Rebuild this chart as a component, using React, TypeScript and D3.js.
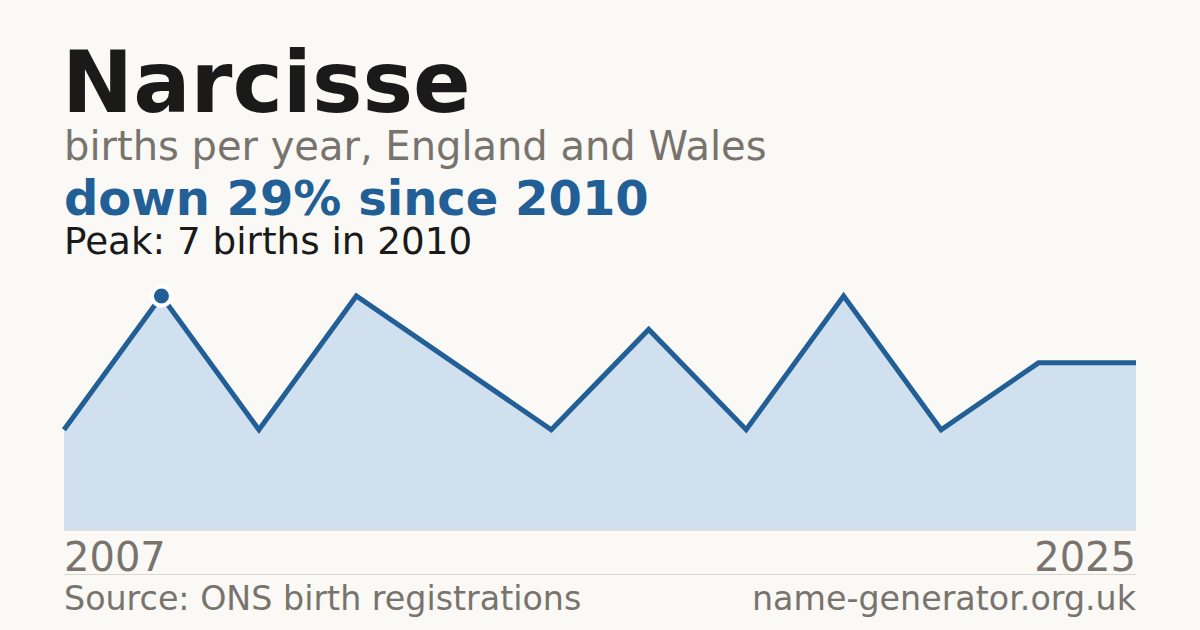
import * as d3 from "d3";
import { useEffect, useRef } from "react";

const NAME = "Narcisse";
const SUBTITLE = "births per year, England and Wales";
const HEADLINE = "down 29% since 2010";
const PEAK_NOTE = "Peak: 7 births in 2010";
const SOURCE = "Source: ONS birth registrations";
const SITE = "name-generator.org.uk";

// years with a published count (small counts are suppressed, so gaps)
const years = [2007, 2010, 2011, 2013, 2014, 2016, 2017, 2019, 2020, 2021, 2024, 2025];
const births = [3, 7, 3, 7, 5, 3, 6, 3, 7, 3, 5, 5];
const peakYear = 2010;

const W = 1200;
const H = 630;
const FONT = "'DejaVu Sans', sans-serif";

export default function App() {
  const ref = useRef<SVGSVGElement>(null);

  useEffect(() => {
    document.body.style.margin = "0";
    if (!ref.current) return;
    const svg = d3.select(ref.current);
    svg.selectAll("*").remove();

    svg.append("rect").attr("width", W).attr("height", H).attr("fill", "#faf9f5");

    const x = d3
      .scalePoint<number>()
      .domain(d3.range(years.length))
      .range([64, 1136]);
    const y = d3.scaleLinear().domain([0, 7]).range([530, 296]);

    const area = d3
      .area<number>()
      .x((_, i) => x(i)!)
      .y0(y(0))
      .y1((d) => y(d));
    const line = d3
      .line<number>()
      .x((_, i) => x(i)!)
      .y((d) => y(d));

    svg.append("path").attr("d", area(births)).attr("fill", "#d0e0ef");
    svg
      .append("line")
      .attr("x1", 64)
      .attr("x2", 1136)
      .attr("y1", y(0) + 0.5)
      .attr("y2", y(0) + 0.5)
      .attr("stroke", "#e4ded4")
      .attr("stroke-width", 1);
    svg
      .append("path")
      .attr("d", line(births))
      .attr("fill", "none")
      .attr("stroke", "#215f96")
      .attr("stroke-width", 5)
      .attr("stroke-linejoin", "miter");

    const pi = years.indexOf(peakYear);
    svg
      .append("circle")
      .attr("cx", x(pi)!)
      .attr("cy", y(births[pi]))
      .attr("r", 9.5)
      .attr("fill", "#215f96")
      .attr("stroke", "#ffffff")
      .attr("stroke-width", 4);

    const text = (
      t: string,
      tx: number,
      ty: number,
      size: number,
      color: string,
      weight = "normal",
      anchor = "start"
    ) =>
      svg
        .append("text")
        .attr("x", tx)
        .attr("y", ty)
        .attr("font-family", FONT)
        .attr("font-size", size)
        .attr("font-weight", weight)
        .attr("fill", color)
        .attr("text-anchor", anchor)
        .text(t);

    text(NAME, 62, 112, 85, "#1a1a1a", "bold");
    text(SUBTITLE, 64, 160, 40, "#78746d");
    text(HEADLINE, 64, 215, 48, "#215f96", "bold");
    text(PEAK_NOTE, 64, 254, 37.3, "#1a1a1a");

    text(String(years[0]), 64, 571, 40, "#78746d");
    text(String(years[years.length - 1]), 1136, 571, 40, "#78746d", "normal", "end");

    svg
      .append("line")
      .attr("x1", 64)
      .attr("x2", 1136)
      .attr("y1", 574.5)
      .attr("y2", 574.5)
      .attr("stroke", "#ddd8cf")
      .attr("stroke-width", 1);

    text(SOURCE, 64, 610, 33.3, "#78746d");
    text(SITE, 1136, 610, 33.3, "#78746d", "normal", "end");
  }, []);

  return <svg ref={ref} width={W} height={H} style={{ display: "block" }} />;
}
